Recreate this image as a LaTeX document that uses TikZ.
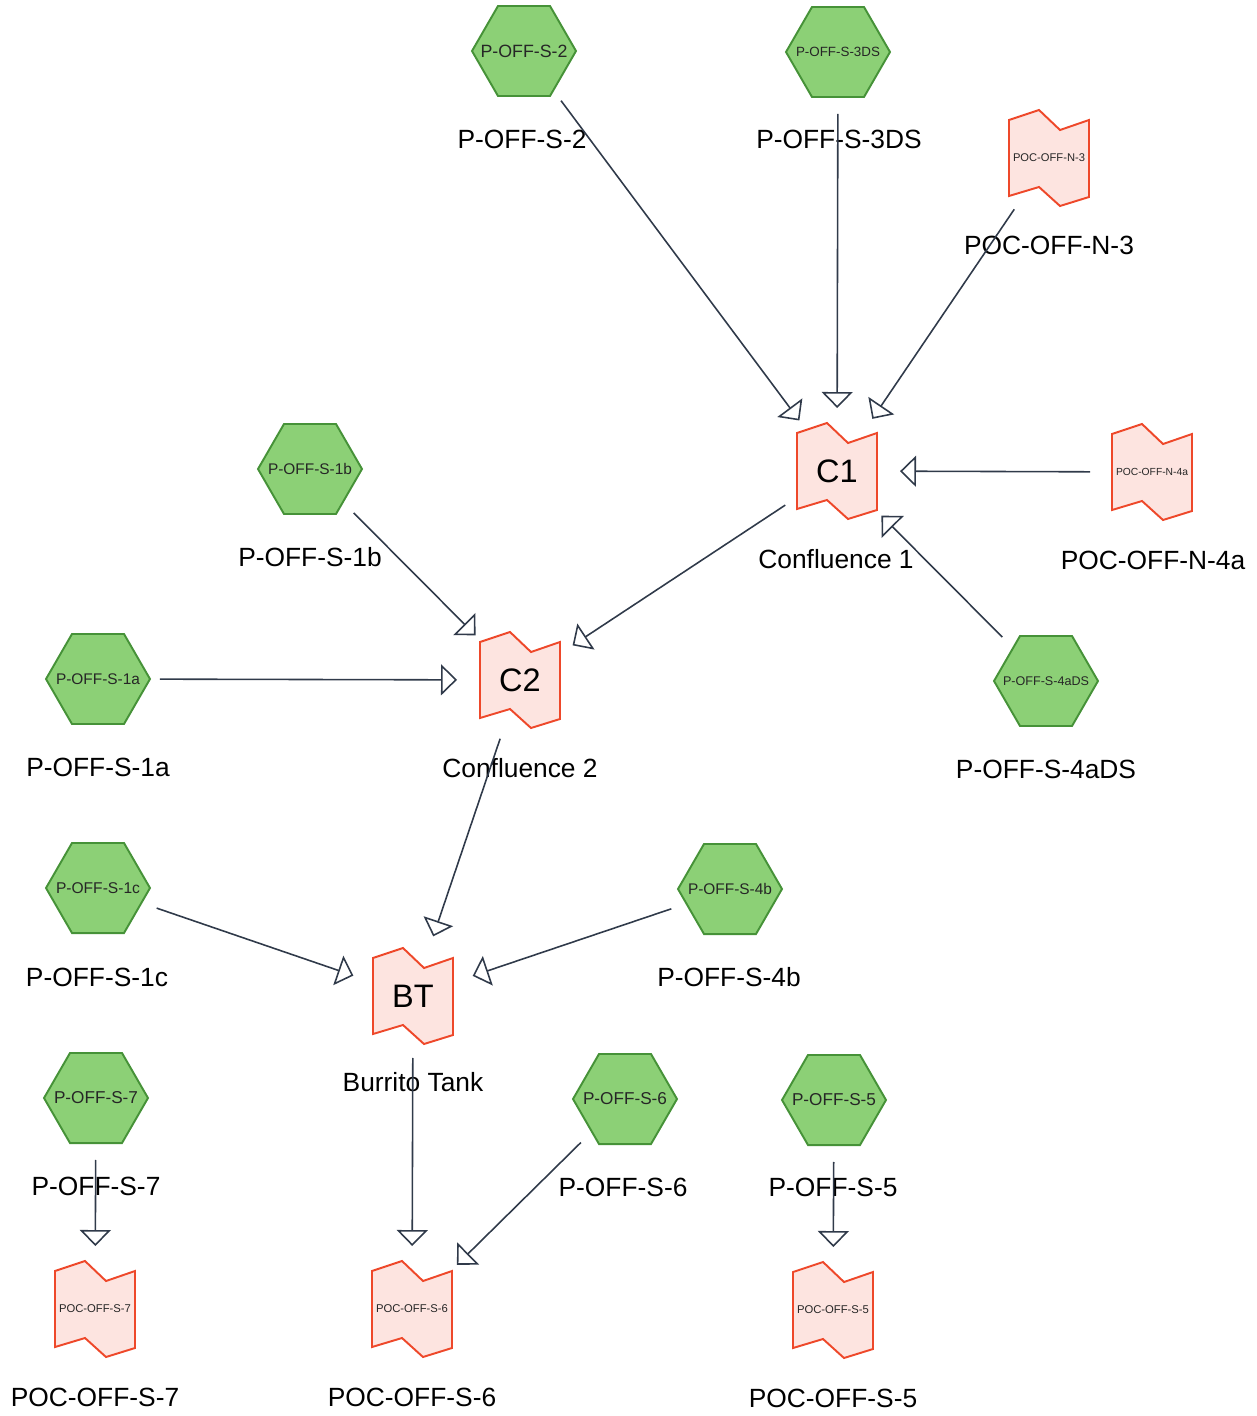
\documentclass[tikz,border=0pt]{standalone}
\usepackage{fontspec}
\setmainfont{Liberation Sans}
\usepackage{tikz}
\usetikzlibrary{shapes.geometric,arrows.meta}

\definecolor{hexfill}{RGB}{140,208,118}
\definecolor{hexline}{RGB}{70,146,56}
\definecolor{pocfill}{RGB}{253,228,224}
\definecolor{pocline}{RGB}{238,72,42}
\definecolor{flowc}{RGB}{48,58,74}

% squeeze small names into the shape, without growing it
\newcommand{\fitlab}[2]{\makebox[0pt]{\resizebox{#1}{!}{#2}}}

\begin{document}
\begin{tikzpicture}[x=0.02cm, y=-0.02cm,
  hexv/.style={regular polygon, regular polygon sides=6, minimum size=2.08cm, inner sep=0pt, draw=hexline, fill=hexfill, line width=1.1pt, text=black!85},
  pocv/.style={inner sep=0pt, text=black!85},
  bigv/.style={inner sep=0pt, font={\fontsize{18.5}{22}\selectfont}},
  lab/.style={inner sep=0pt, font={\fontsize{15}{18}\selectfont}},
  flow/.style={draw=flowc, line width=0.9pt, -{Triangle[open, length=3.2mm, width=6.2mm]}, shorten <=1.24cm, shorten >=1.26cm},
  flag/.pic={\draw[draw=pocline, fill=pocfill, line width=1.1pt] (-40,-38) -- (-10,-48) -- (11,-28) -- (40,-38) -- (40,39) -- (11,48) -- (-10,29) -- (-40,38) -- cycle;}
]
\useasboundingbox (0,0) rectangle (1257,1416);

% sources
\node[hexv] (p2) at (524,51) {\fitlab{1.74cm}{P-OFF-S-2}};
\node[hexv] (p3ds) at (838,52) {\fitlab{1.68cm}{P-OFF-S-3DS}};
\node[hexv] (p1b) at (310,469) {\fitlab{1.68cm}{P-OFF-S-1b}};
\node[hexv] (p1a) at (98,679) {\fitlab{1.68cm}{P-OFF-S-1a}};
\node[hexv] (p4ads) at (1046,681) {\fitlab{1.72cm}{P-OFF-S-4aDS}};
\node[hexv] (p1c) at (98,888) {\fitlab{1.68cm}{P-OFF-S-1c}};
\node[hexv] (p4b) at (730,889) {\fitlab{1.68cm}{P-OFF-S-4b}};
\node[hexv] (p7) at (96,1098) {\fitlab{1.68cm}{P-OFF-S-7}};
\node[hexv] (p6) at (625,1099) {\fitlab{1.68cm}{P-OFF-S-6}};
\node[hexv] (p5) at (834,1100) {\fitlab{1.68cm}{P-OFF-S-5}};

% confluences and outlets
\pic at (1049,158) {flag};
\node[pocv] (n3) at (1049,158) {\fitlab{1.44cm}{POC-OFF-N-3}};
\pic at (837,471) {flag};
\node[bigv] (c1) at (837,471) {C1};
\pic at (1152,472) {flag};
\node[pocv] (n4a) at (1152,472) {\fitlab{1.44cm}{POC-OFF-N-4a}};
\pic at (520,680) {flag};
\node[bigv] (c2) at (520,680) {C2};
\pic at (413,996) {flag};
\node[bigv] (bt) at (413,996) {BT};
\pic at (95,1309) {flag};
\node[pocv] (s7) at (95,1309) {\fitlab{1.44cm}{POC-OFF-S-7}};
\pic at (412,1309) {flag};
\node[pocv] (s6) at (412,1309) {\fitlab{1.44cm}{POC-OFF-S-6}};
\pic at (833,1310) {flag};
\node[pocv] (s5) at (833,1310) {\fitlab{1.44cm}{POC-OFF-S-5}};

% captions
\node[lab] (p2l) at (522,139) {P-OFF-S-2};
\node[lab] (p3dsl) at (839,139) {P-OFF-S-3DS};
\node[lab] (n3l) at (1049,245) {POC-OFF-N-3};
\node[lab] (p1bl) at (310,557) {P-OFF-S-1b};
\node[lab] (c1l) at (836,559) {Confluence 1};
\node[lab] (n4al) at (1153,560) {POC-OFF-N-4a};
\node[lab] (p1al) at (98,767) {P-OFF-S-1a};
\node[lab] (c2l) at (520,768) {Confluence 2};
\node[lab] (p4adsl) at (1046,769) {P-OFF-S-4aDS};
\node[lab] (p1cl) at (97,977) {P-OFF-S-1c};
\node[lab] (p4bl) at (729,977) {P-OFF-S-4b};
\node[lab] (btl) at (413,1082) {Burrito Tank};
\node[lab] (p7l) at (96,1186) {P-OFF-S-7};
\node[lab] (p6l) at (623,1187) {P-OFF-S-6};
\node[lab] (p5l) at (833,1187) {P-OFF-S-5};
\node[lab] (s7l) at (95,1397) {POC-OFF-S-7};
\node[lab] (s6l) at (412,1397) {POC-OFF-S-6};
\node[lab] (s5l) at (833,1398) {POC-OFF-S-5};

% flows
\draw[flow] (p2.center) -- (c1.center);
\draw[flow] (p3ds.center) -- (c1.center);
\draw[flow] (n3.center) -- (c1.center);
\draw[flow] (n4a.center) -- (c1.center);
\draw[flow] (p4ads.center) -- (c1.center);
\draw[flow] (c1.center) -- (c2.center);
\draw[flow] (p1b.center) -- (c2.center);
\draw[flow] (p1a.center) -- (c2.center);
\draw[flow] (c2.center) -- (bt.center);
\draw[flow] (p1c.center) -- (bt.center);
\draw[flow] (p4b.center) -- (bt.center);
\draw[flow] (bt.center) -- (s6.center);
\draw[flow] (p6.center) -- (s6.center);
\draw[flow] (p7.center) -- (s7.center);
\draw[flow] (p5.center) -- (s5.center);
\end{tikzpicture}
\end{document}
